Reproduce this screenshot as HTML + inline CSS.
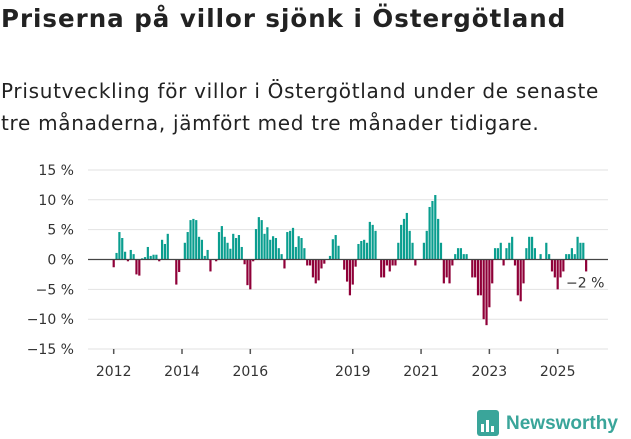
<!DOCTYPE html>
<html><head><meta charset="utf-8"><style>
body{margin:0;background:#fff;width:631px;height:439px;overflow:hidden;font-family:"DejaVu Sans","Liberation Sans",sans-serif;color:#222}
#t{position:absolute;left:1px;top:4px;font-size:24.5px;letter-spacing:1px;font-weight:bold;margin:0;white-space:nowrap}
#s{position:absolute;left:1px;top:75px;font-size:20px;letter-spacing:0.7px;line-height:32px;margin:0;color:#222;white-space:nowrap}
svg{position:absolute;left:0;top:0}
</style></head><body>
<h1 id="t">Priserna på villor sjönk i Östergötland</h1>
<p id="s">Prisutveckling för villor i Östergötland under de senaste<br>tre månaderna, jämfört med tre månader tidigare.</p>
<svg id="c" width="631" height="439"></svg>
<script>
const values=[-1.3,1.1,4.6,3.6,1.3,-0.3,1.6,0.9,-2.5,-2.7,0.2,0.4,2.1,0.6,0.8,0.8,-0.3,3.3,2.6,4.3,0,0,-4.2,-2.1,0,2.8,4.6,6.6,6.8,6.6,3.8,3.3,0.6,1.6,-2.0,0,-0.3,4.6,5.6,3.8,2.8,1.8,4.3,3.6,4.1,2.1,-0.8,-4.3,-5.0,-0.3,5.1,7.1,6.6,4.3,5.4,3.3,3.9,3.6,1.9,0.9,-1.5,4.6,4.8,5.3,2.1,3.9,3.6,1.9,-1.0,-1.0,-3.0,-4.0,-3.5,-1.5,-0.7,0,0.6,3.4,4.1,2.3,0,-1.7,-3.7,-6.0,-4.2,-1.2,2.6,3.1,3.3,2.8,6.3,5.8,4.8,0,-3.0,-3.0,-1.0,-2.0,-1.0,-1.0,2.8,5.8,6.8,7.8,4.8,2.8,-1.0,0,0,2.8,4.8,8.8,9.8,10.8,6.8,2.8,-4.0,-3.0,-4.0,-1.0,0.9,1.9,1.9,0.9,0.9,0,-3.0,-3.0,-6.0,-6.0,-10.0,-11.0,-8.0,-4.0,1.9,1.9,2.8,-1.0,1.9,2.8,3.8,-1.0,-6.0,-7.0,-4.0,1.9,3.8,3.8,1.9,0,0.9,0,2.8,0.9,-2.0,-3.0,-5.0,-3.0,-2.0,0.9,0.9,1.9,0.9,3.8,2.8,2.8,-2.0];
const yTicks=[15,10,5,0,-5,-10,-15];
const yTickLabels=["15 %","10 %","5 %","0 %","−5 %","−10 %","−15 %"];
const xTickYears=[2012,2014,2016,2019,2021,2023,2025];
const lastLabel="−2 %";
const startYear=2012;
const NS="http://www.w3.org/2000/svg";
const svg=document.getElementById('c');
const y=v=>259.5-v*5.97;
const x=i=>113.7+i*2.846;
function mk(t,a){const e=document.createElementNS(NS,t);for(const k in a)e.setAttribute(k,a[k]);svg.appendChild(e);return e;}
yTicks.forEach((v,k)=>{
 if(v!==0){const g=mk('line',{x1:88,x2:608,y1:y(v),y2:y(v),stroke:'#e2e2e2','stroke-width':1});
 
 }
 const t=mk('text',{x:74,y:y(v)+5,'text-anchor':'end','font-size':14,fill:'#333'});
 t.textContent=yTickLabels[k];
 
 
});
values.forEach((v,i)=>{
 const r=mk('rect',{x:x(i)-1.1,width:2.2,y:v>=0?y(v):y(0),height:Math.abs(y(v)-y(0)),fill:v>=0?'#0a9e8f':'#8f0038'});
 
 
});
const z=mk('line',{x1:88,x2:608,y1:y(0),y2:y(0),stroke:'#444','stroke-width':1.3});


xTickYears.forEach(yr=>{
 const xi=x((yr-startYear)*12);
 const tk=mk('line',{x1:xi,x2:xi,y1:349,y2:354,stroke:'#555','stroke-width':1.5});
 
 
 const t=mk('text',{x:xi,y:376,'text-anchor':'middle','font-size':14,fill:'#333'});
 t.textContent=yr;
 
 
});
const ll=mk('text',{x:566,y:y(values[values.length-1])+16,'font-size':14,fill:'#333'});
ll.textContent=lastLabel;


</script>
<svg width="631" height="439" style="pointer-events:none">
<rect x="477" y="410" width="22" height="26" rx="3" fill="#3aa59a"/>
<rect x="481" y="424" width="3" height="8" fill="#fff"/><rect x="486" y="420" width="3" height="12" fill="#fff"/><rect x="491" y="426" width="3" height="6" fill="#fff"/>
<text x="506" y="429" font-size="19" font-weight="bold" fill="#3aa59a" font-family="Liberation Sans,sans-serif">Newsworthy</text>
</svg>
</body></html>
